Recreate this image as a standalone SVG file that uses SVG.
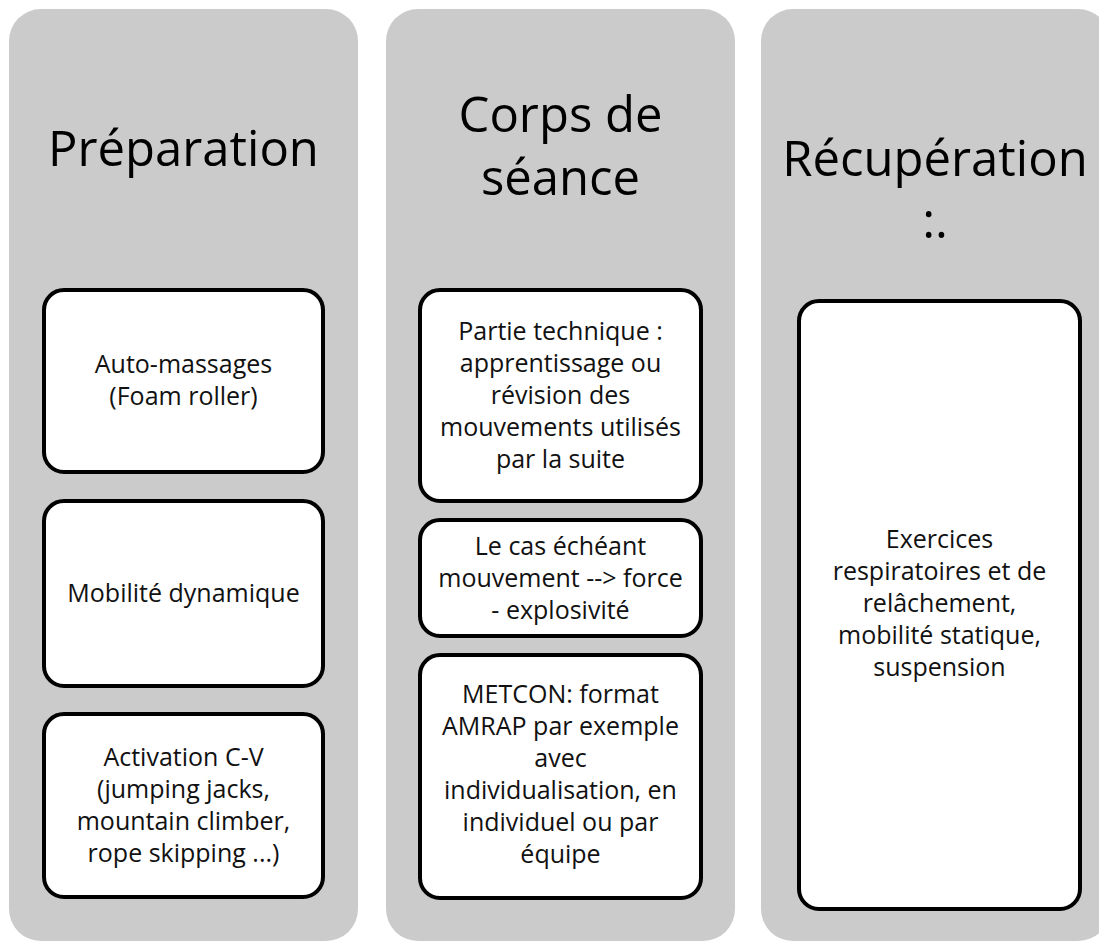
<svg xmlns="http://www.w3.org/2000/svg" width="1099" height="941" viewBox="0 0 1099 941">
<style>
.col{fill:#cbcbcb;}
.box{fill:#ffffff;stroke:#000000;stroke-width:4;}
.title{font-family:"Open Sans","Noto Sans",sans-serif;font-size:49px;fill:#000000;text-anchor:middle;}
.body{font-family:"Open Sans","Noto Sans",sans-serif;font-size:25px;fill:#111111;text-anchor:middle;}
</style>
<rect width="1099" height="941" fill="#ffffff"/>
<g id="col-preparation">
<rect class="col" x="9" y="9" width="349" height="932" rx="32"/>
<text class="title" x="183.5" y="166">Préparation</text>
</g>
<g id="col-corps">
<rect class="col" x="386" y="9" width="349" height="932" rx="32"/>
<text class="title" x="560.5" y="132">Corps de</text>
<text class="title" x="560.5" y="195">séance</text>
</g>
<g id="col-recuperation">
<rect class="col" x="761" y="9" width="349" height="932" rx="32"/>
<text class="title" x="935" y="176">Récupération</text>
<text class="title" x="935" y="238">:.</text>
</g>
<g id="node-auto-massages">
<rect class="box" x="44" y="290" width="279" height="182" rx="20"/>
<text class="body" x="183.5" y="373">Auto-massages</text>
<text class="body" x="183.5" y="405">(Foam roller)</text>
</g>
<g id="node-mobilite">
<rect class="box" x="44" y="501" width="279" height="185" rx="20"/>
<text class="body" x="183.5" y="602">Mobilité dynamique</text>
</g>
<g id="node-activation">
<rect class="box" x="44" y="714" width="279" height="183" rx="20"/>
<text class="body" x="183.5" y="766">Activation C-V</text>
<text class="body" x="183.5" y="798">(jumping jacks,</text>
<text class="body" x="183.5" y="830">mountain climber,</text>
<text class="body" x="183.5" y="862">rope skipping ...)</text>
</g>
<g id="node-technique">
<rect class="box" x="420" y="290" width="281" height="211" rx="20"/>
<text class="body" x="560.5" y="340">Partie technique :</text>
<text class="body" x="560.5" y="372">apprentissage ou</text>
<text class="body" x="560.5" y="404">révision des</text>
<text class="body" x="560.5" y="436">mouvements utilisés</text>
<text class="body" x="560.5" y="468">par la suite</text>
</g>
<g id="node-force">
<rect class="box" x="420" y="520" width="281" height="116" rx="20"/>
<text class="body" x="560.5" y="555">Le cas échéant</text>
<text class="body" x="560.5" y="587">mouvement --&gt; force</text>
<text class="body" x="560.5" y="619">- explosivité</text>
</g>
<g id="node-metcon">
<rect class="box" x="420" y="655" width="281" height="243" rx="20"/>
<text class="body" x="560.5" y="703">METCON: format</text>
<text class="body" x="560.5" y="735">AMRAP par exemple</text>
<text class="body" x="560.5" y="767">avec</text>
<text class="body" x="560.5" y="799">individualisation, en</text>
<text class="body" x="560.5" y="831">individuel ou par</text>
<text class="body" x="560.5" y="863">équipe</text>
</g>
<g id="node-exercices">
<rect class="box" x="799" y="301" width="281" height="608" rx="20"/>
<text class="body" x="939.5" y="548">Exercices</text>
<text class="body" x="939.5" y="580">respiratoires et de</text>
<text class="body" x="939.5" y="612">relâchement,</text>
<text class="body" x="939.5" y="644">mobilité statique,</text>
<text class="body" x="939.5" y="676">suspension</text>
</g>
<g id="connectors"></g>
</svg>
